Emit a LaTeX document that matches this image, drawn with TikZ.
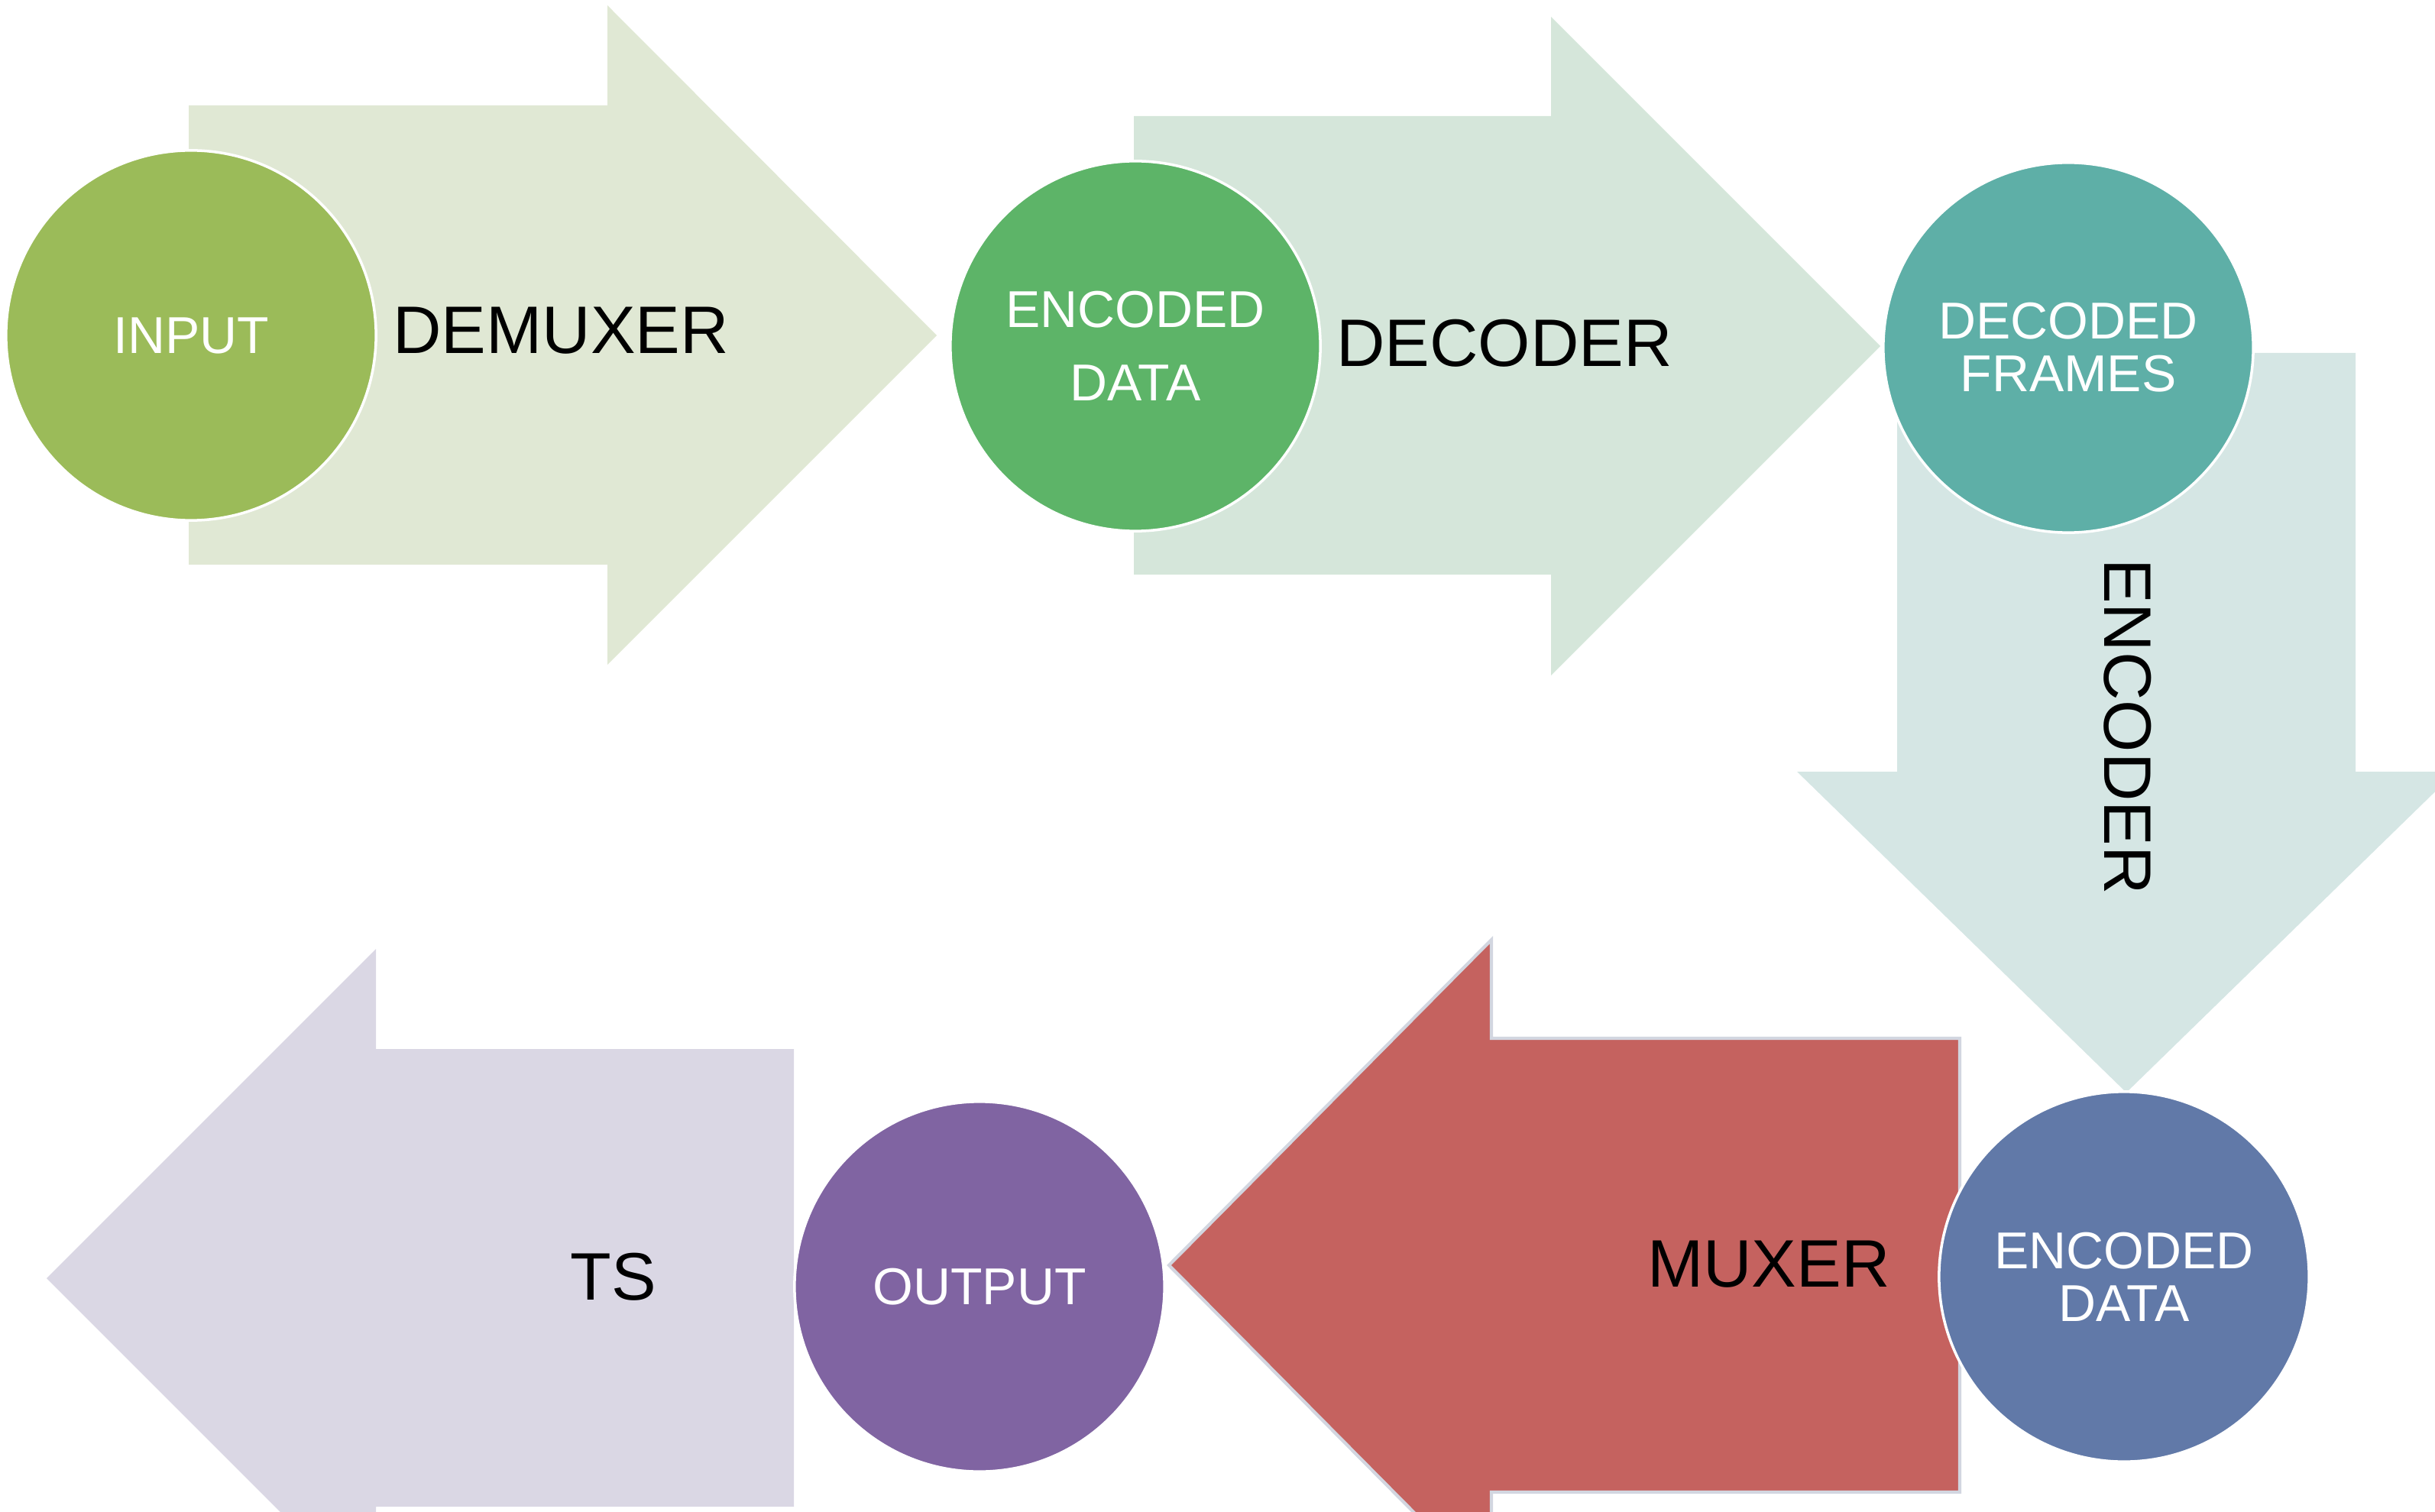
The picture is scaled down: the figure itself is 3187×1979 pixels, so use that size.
\documentclass[tikz,border=0pt]{standalone}
\usepackage{fontspec}
\setmainfont{Liberation Sans}
\definecolor{cInput}{HTML}{9BBB59}
\definecolor{cEnc}{HTML}{5DB468}
\definecolor{cDec}{HTML}{5EAFA7}
\definecolor{cEnc2}{HTML}{6179A8}
\definecolor{cOut}{HTML}{8064A2}
\definecolor{cMux}{HTML}{C5625F}
\definecolor{aDemux}{HTML}{E0E8D4}
\definecolor{aDecod}{HTML}{D5E6DA}
\definecolor{aEncod}{HTML}{D5E6E4}
\definecolor{aTs}{HTML}{DAD7E4}
\definecolor{muxBorder}{HTML}{D2D6E0}
\begin{document}
\begin{tikzpicture}[x=0.01cm,y=-0.01cm,
  circ/.style={circle,draw=white,line width=1pt,minimum size=4.84cm,inner sep=0pt,text=white,align=center,font=\fontsize{19.3}{19.6}\selectfont},
  lbl/.style={text=black,font=\fontsize{25}{30}\selectfont,inner sep=0pt}]
\useasboundingbox (0,0) rectangle (3187,1979);
\clip (0,0) rectangle (3187,1979);
% block arrows
\fill[aDemux] (247,138) -- (795,138) -- (795,7) -- (1226,439) -- (795,870) -- (795,739) -- (247,739) -- cycle;
\fill[aDecod] (1484,152) -- (2030,152) -- (2030,22) -- (2461,453) -- (2030,884) -- (2030,752) -- (1484,752) -- cycle;
\fill[aEncod] (2483,462) -- (3083,462) -- (3083,1010) -- (3214,1010) -- (2783,1430) -- (2352,1010) -- (2483,1010) -- cycle;
\filldraw[fill=cMux,draw=muxBorder,line width=1.2pt] (2565,1359) -- (2565,1953) -- (1952,1953) -- (1952,2082) -- (1530,1656) -- (1952,1230) -- (1952,1359) -- cycle;
\fill[aTs] (1039,1373) -- (1039,1972) -- (492,1972) -- (492,2104) -- (61,1673) -- (492,1242) -- (492,1373) -- cycle;
% circles
\node[circ,fill=cInput] (input) at (250,439) {INPUT};
\node[circ,fill=cEnc,font=\fontsize{19.3}{27.3}\selectfont] (enc1) at (1486,453) {ENCODED\\DATA};
\node[circ,fill=cDec] (dec) at (2707,455) {DECODED\\FRAMES};
\node[circ,fill=cEnc2] (enc2) at (2780,1671) {ENCODED\\DATA};
\node[circ,fill=cOut] (out) at (1282,1684) {OUTPUT};
% labels
\node[lbl] (demux) at (734,433) {DEMUXER};
\node[lbl] (decoder) at (1969,449) {DECODER};
\node[lbl,rotate=-90] (encoder) at (2785,951) {ENCODER};
\node[lbl] (muxer) at (2315,1655) {MUXER};
\node[lbl] (ts) at (803,1671) {TS};
\end{tikzpicture}
\end{document}
